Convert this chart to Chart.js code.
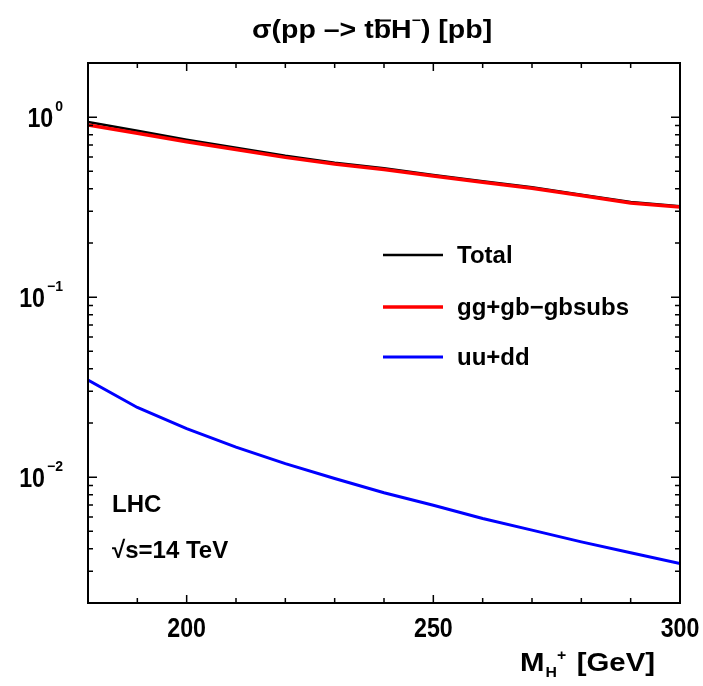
<!DOCTYPE html>
<html>
<head>
<meta charset="utf-8">
<script src="https://cdn.jsdelivr.net/npm/chart.js@4.4.1/dist/chart.umd.min.js"></script>
<style>
  html, body { margin: 0; padding: 0; background: #fff; }
  canvas { display: block; }
</style>
</head>
<body>
<canvas id="xsec" width="703" height="686"></canvas>
<script>
// charged Higgs mass points [GeV]
const massGeV = [180, 190, 200, 210, 220, 230, 240, 250, 260, 270, 280, 290, 300];
// cross sections [pb]
const totalPb = [0.94, 0.84, 0.75, 0.677, 0.61, 0.559, 0.52, 0.478, 0.441, 0.408, 0.371, 0.338, 0.32];
const ggGbPb  = [0.905, 0.815, 0.731, 0.662, 0.598, 0.549, 0.512, 0.471, 0.435, 0.403, 0.367, 0.334, 0.317];
const uuDdPb  = [0.0346, 0.0244, 0.0186, 0.0147, 0.0119, 0.00984, 0.0082, 0.00699, 0.00589, 0.00508, 0.00437, 0.0038, 0.00331];

const seriesNames = ['Total', 'gg+gb\u2212gbsubs', 'uu+dd'];
const xLabelTicks = [200, 250, 300];
const yDecades = [1, 0.1, 0.01];
const yDecadeExp = ['0', '\u22121', '\u22122'];

const SANS = '"Liberation Sans", Arial, Helvetica, sans-serif';

function toPoints(values) {
  return massGeV.map((m, i) => ({ x: m, y: values[i] }));
}

// draws text pieces one after another, squeezed/stretched horizontally by sx
function drawPieces(ctx, pieces, x, baseline, sx) {
  ctx.save();
  ctx.translate(x, baseline);
  ctx.scale(sx, 1);
  ctx.textAlign = 'left';
  ctx.textBaseline = 'alphabetic';
  let cx = 0;
  pieces.forEach(p => {
    ctx.font = 'bold ' + p.size + 'px ' + SANS;
    const w = ctx.measureText(p.text).width;
    const dx = p.dx || 0;
    ctx.fillText(p.text, cx + dx, p.dy || 0);
    if (p.bar) {
      ctx.fillRect(cx + 1, -p.size * 0.74, w - 1, 2);
    }
    cx += w + dx;
  });
  ctx.restore();
}

// narrow-looking label centred on (x, y)
function drawNarrow(ctx, text, x, y, size, sx, align) {
  ctx.save();
  ctx.translate(x, y);
  ctx.scale(sx, 1);
  ctx.font = 'bold ' + size + 'px ' + SANS;
  ctx.textAlign = align;
  ctx.textBaseline = 'alphabetic';
  ctx.fillText(text, 0, size * 0.36);
  const w = ctx.measureText(text).width * sx;
  ctx.restore();
  return w;
}

const decorPlugin = {
  id: 'decor',
  afterDatasetsDraw(chart) {
    const { ctx, chartArea: a, scales: { x, y } } = chart;
    ctx.save();
    ctx.fillStyle = '#000';
    ctx.strokeStyle = '#000';

    // ticks on all four sides, pointing inward
    ctx.lineWidth = 1.5;
    ctx.beginPath();
    for (let v = x.min + 10; v < x.max; v += 10) {
      const px = x.getPixelForValue(v);
      const len = v % 50 === 0 ? 8 : 5;
      ctx.moveTo(px, a.bottom); ctx.lineTo(px, a.bottom - len);
      ctx.moveTo(px, a.top); ctx.lineTo(px, a.top + len);
    }
    for (let d = -3; d <= 0; d++) {
      for (let m = 1; m <= 9; m++) {
        const v = m * Math.pow(10, d);
        if (v <= y.min * 1.001 || v >= y.max * 0.999) continue;
        const py = y.getPixelForValue(v);
        const len = m === 1 ? 9 : 5;
        ctx.moveTo(a.left, py); ctx.lineTo(a.left + len, py);
        ctx.moveTo(a.right, py); ctx.lineTo(a.right - len, py);
      }
    }
    ctx.stroke();

    // frame
    ctx.lineWidth = 2;
    ctx.strokeRect(a.left, a.top, a.right - a.left, a.bottom - a.top);

    // x tick labels
    xLabelTicks.forEach(v => {
      drawNarrow(ctx, String(v), x.getPixelForValue(v), a.bottom + 24, 27, 0.86, 'center');
    });

    // y tick labels 10^n
    yDecades.forEach((v, i) => {
      const py = y.getPixelForValue(v);
      ctx.textAlign = 'right';
      ctx.textBaseline = 'alphabetic';
      ctx.font = 'bold 14px ' + SANS;
      const ew = ctx.measureText(yDecadeExp[i]).width;
      ctx.fillText(yDecadeExp[i], 63, py - 6);
      drawNarrow(ctx, '10', 63 - ew - 2, py + 0.5, 27, 0.86, 'right');
    });

    // legend inside the frame
    const legendY = [255, 307, 357];
    chart.data.datasets.forEach((ds, i) => {
      ctx.strokeStyle = ds.borderColor;
      ctx.lineWidth = ds.borderWidth;
      ctx.beginPath();
      ctx.moveTo(383, legendY[i]);
      ctx.lineTo(443, legendY[i]);
      ctx.stroke();
      ctx.font = 'bold 24px ' + SANS;
      ctx.textAlign = 'left';
      ctx.textBaseline = 'middle';
      ctx.fillText(ds.label, 457, legendY[i] + 1);
    });

    // collider annotations
    ctx.font = 'bold 24px ' + SANS;
    ctx.textAlign = 'left';
    ctx.textBaseline = 'alphabetic';
    ctx.fillText('LHC', 112, 512);
    ctx.fillText('\u221As=14 TeV', 112, 558);

    // title: sigma(pp -> t bbar H-) [pb]
    drawPieces(ctx, [
      { text: '\u03C3(pp \u2013> t', size: 25 },
      { text: 'b', size: 25, bar: true },
      { text: 'H', size: 25 },
      { text: '\u2212', size: 14, dy: -13 },
      { text: ') [pb]', size: 25 }
    ], 252, 38, 1.14);

    // x axis title: M_H+ [GeV]
    drawPieces(ctx, [
      { text: 'M', size: 26 },
      { text: 'H', size: 14, dy: 6, dx: 1 },
      { text: '+', size: 14, dy: -11, dx: 0 },
      { text: ' [GeV]', size: 26, dx: 2 }
    ], 520, 671, 1.13);

    ctx.restore();
  }
};

new Chart(document.getElementById('xsec'), {
  type: 'line',
  data: {
    datasets: [
      { label: seriesNames[0], data: toPoints(totalPb), borderColor: '#000000', borderWidth: 2.5, order: 2 },
      { label: seriesNames[1], data: toPoints(ggGbPb), borderColor: '#ff0000', borderWidth: 3.5, order: 1 },
      { label: seriesNames[2], data: toPoints(uuDdPb), borderColor: '#0000ff', borderWidth: 3, order: 3 }
    ]
  },
  options: {
    responsive: false,
    animation: false,
    layout: { padding: { left: 88, right: 23, top: 63, bottom: 83 } },
    elements: { point: { radius: 0 }, line: { tension: 0, fill: false } },
    plugins: { legend: { display: false }, tooltip: { enabled: false }, title: { display: false } },
    scales: {
      x: {
        type: 'linear',
        display: false,
        min: 180,
        max: 300
      },
      y: {
        type: 'logarithmic',
        display: false,
        min: 0.002,
        max: 2
      }
    }
  },
  plugins: [decorPlugin]
});
</script>
</body>
</html>
